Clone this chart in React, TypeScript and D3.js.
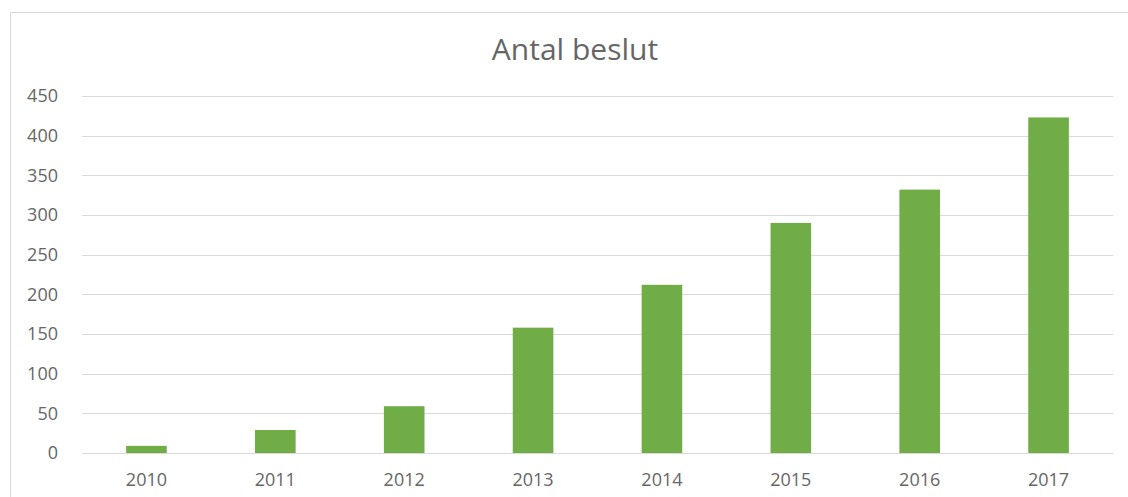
import * as d3 from "d3";
import { useEffect, useRef } from "react";

const years = ["2010", "2011", "2012", "2013", "2014", "2015", "2016", "2017"];
const decisions = [9, 29, 59, 158, 212, 290, 332, 423];
const yTicks = [0, 50, 100, 150, 200, 250, 300, 350, 400, 450];
const title = "Antal beslut";

const WIDTH = 1128;
const HEIGHT = 497;
const FONT = "'Open Sans', 'Noto Sans', sans-serif";
const TEXT = "#666666";

export default function App() {
  const ref = useRef<SVGSVGElement>(null);

  useEffect(() => {
    if (!ref.current) return;
    const svg = d3.select(ref.current);
    svg.selectAll("*").remove();

    const plot = { left: 82, right: 1113, top: 96, bottom: 453 };

    svg
      .append("rect")
      .attr("width", WIDTH)
      .attr("height", HEIGHT)
      .attr("fill", "#fff");

    // chart area border (only top/left visible, rest is cropped)
    svg
      .append("rect")
      .attr("x", 10.5)
      .attr("y", 12.5)
      .attr("width", WIDTH + 20)
      .attr("height", HEIGHT + 20)
      .attr("fill", "none")
      .attr("stroke", "#d9d9d9")
      .attr("stroke-width", 1);

    const x = d3
      .scaleBand<string>()
      .domain(years)
      .range([plot.left, plot.right])
      .paddingInner(0.685)
      .paddingOuter(0.3425);

    const y = d3.scaleLinear().domain([0, 450]).range([plot.bottom, plot.top]);

    // gridlines
    svg
      .append("g")
      .selectAll("line")
      .data(yTicks)
      .join("line")
      .attr("x1", plot.left)
      .attr("x2", plot.right)
      .attr("y1", (d) => Math.round(y(d)) + 0.5)
      .attr("y2", (d) => Math.round(y(d)) + 0.5)
      .attr("stroke", "#d9d9d9")
      .attr("stroke-width", 1);

    // bars
    svg
      .append("g")
      .selectAll("rect")
      .data(decisions)
      .join("rect")
      .attr("x", (_d, i) => x(years[i])!)
      .attr("width", x.bandwidth())
      .attr("y", (d) => y(d))
      .attr("height", (d) => y(0) - y(d))
      .attr("fill", "#70ad47");

    // y tick labels
    svg
      .append("g")
      .selectAll("text")
      .data(yTicks)
      .join("text")
      .attr("x", 58)
      .attr("y", (d) => y(d))
      .attr("dy", "0.35em")
      .attr("text-anchor", "end")
      .style("font-family", FONT)
      .style("font-size", "18px")
      .style("fill", TEXT)
      .text((d) => d);

    // x tick labels
    svg
      .append("g")
      .selectAll("text")
      .data(years)
      .join("text")
      .attr("x", (d) => x(d)! + x.bandwidth() / 2)
      .attr("y", 480)
      .attr("dy", "0.35em")
      .attr("text-anchor", "middle")
      .style("font-family", FONT)
      .style("font-size", "18px")
      .style("fill", TEXT)
      .text((d) => d);

    svg
      .append("text")
      .attr("x", 575)
      .attr("y", 49)
      .attr("dy", "0.35em")
      .attr("text-anchor", "middle")
      .style("font-family", FONT)
      .style("font-size", "30px")
      .style("fill", TEXT)
      .text(title);
  }, []);

  return (
    <div style={{ position: "fixed", left: 0, top: 0 }}>
      <svg ref={ref} width={WIDTH} height={HEIGHT} style={{ display: "block" }} />
    </div>
  );
}
